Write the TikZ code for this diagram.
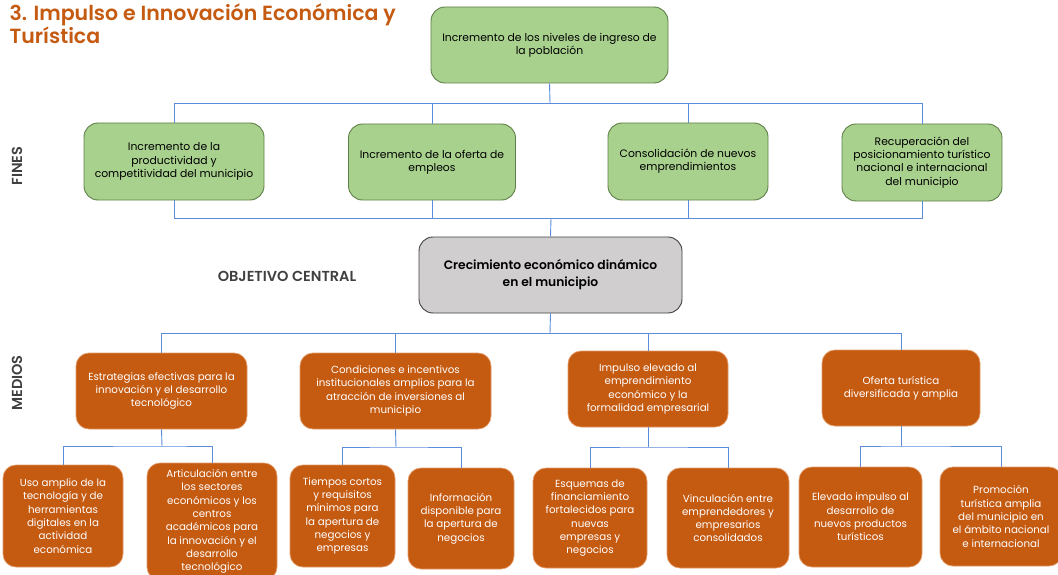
\documentclass[tikz,border=0pt]{standalone}
\usepackage{fontspec}
\setmainfont{Poppins}
\newfontfamily\medfont{Poppins SemiBold}
\usepackage{tikz}

\definecolor{verde}{HTML}{A9D18E}
\definecolor{bordeverde}{HTML}{5F7F48}
\definecolor{naranja}{HTML}{C55A11}
\definecolor{bordenaranja}{HTML}{E39A66}
\definecolor{gris}{HTML}{D0CECE}
\definecolor{azul}{HTML}{5B8BD9}
\definecolor{rotulo}{HTML}{404040}

\begin{document}
\begin{tikzpicture}[x=1pt,y=-1pt,
  fin/.style={draw=bordeverde,fill=verde,rounded corners=14pt,line width=0.9pt,align=center,inner sep=0pt,font=\fontsize{10.8}{13.2}\selectfont},
  medio/.style={draw=bordenaranja,fill=naranja,text=white,rounded corners=13pt,line width=0.7pt,align=center,inner sep=0pt,font=\fontsize{10.3}{13.3}\selectfont},
  conn/.style={azul,line width=0.9pt},
  rot/.style={text=rotulo,font=\medfont\fontsize{14.5}{16}\selectfont}]
\useasboundingbox (0,0) rectangle (1058,575);

% titulo y rotulos
\node[anchor=north west,align=left,text=naranja,font=\medfont\fontsize{20.5}{23}\selectfont] (titulo) at (6,0) {3. Impulso e Innovación Económica y\\Turística};
\node[rot,rotate=90] (fines) at (17,166) {FINES};
\node[rot,rotate=90] (medios) at (17,383) {MEDIOS};
\node[rot] (objetivo) at (287,276) {OBJETIVO CENTRAL};

% fines
\node[fin,minimum width=237pt,minimum height=76pt] (top) at (549.5,45) {Incremento de los niveles de ingreso de\\la población};
\node[fin,minimum width=180pt,minimum height=77pt] (f1) at (174,161.5) {Incremento de la\\productividad y\\competitividad del municipio};
\node[fin,minimum width=167pt,minimum height=76pt] (f2) at (432,162) {Incremento de la oferta de\\empleos};
\node[fin,minimum width=160pt,minimum height=77pt] (f3) at (688,161.5) {Consolidación de nuevos\\emprendimientos};
\node[fin,minimum width=160pt,minimum height=77pt] (f4) at (922,162.5) {Recuperación del\\posicionamiento turístico\\nacional e internacional\\del municipio};

% objetivo central
\node[draw=rotulo,fill=gris,rounded corners=14pt,line width=0.9pt,align=center,inner sep=0pt,minimum width=263pt,minimum height=76pt,font=\medfont\fontsize{12.3}{17}\selectfont] (cen) at (550.5,275) {Crecimiento económico dinámico\\en el municipio};

% medios
\node[medio,minimum width=171pt,minimum height=76pt] (m1) at (161.5,391) {Estrategias efectivas para la\\innovación y el desarrollo\\tecnológico};
\node[medio,minimum width=191pt,minimum height=76pt] (m2) at (395.5,391) {Condiciones e incentivos\\institucionales amplios para la\\atracción de inversiones al\\municipio};
\node[medio,minimum width=160pt,minimum height=76pt] (m3) at (648,389) {Impulso elevado al\\emprendimiento\\económico y la\\formalidad empresarial};
\node[medio,minimum width=158pt,minimum height=76pt] (m4) at (901,388) {Oferta turística\\diversificada y amplia};

\node[medio,minimum width=120pt,minimum height=102pt] (b1) at (63,516) {Uso amplio de la\\tecnología y de\\herramientas\\digitales en la\\actividad\\económica};
\node[medio,minimum width=130pt,minimum height=117pt] (b2) at (212,521.5) {Articulación entre\\los sectores\\económicos y los\\centros\\académicos para\\la innovación y el\\desarrollo\\tecnológico};
\node[medio,minimum width=105pt,minimum height=102pt] (b3) at (342.5,516) {Tiempos cortos\\y requisitos\\mínimos para\\la apertura de\\negocios y\\empresas};
\node[medio,minimum width=106pt,minimum height=101pt] (b4) at (461,518.5) {Información\\disponible para\\la apertura de\\negocios};
\node[medio,minimum width=114pt,minimum height=100pt] (b5) at (590,518) {Esquemas de\\financiamiento\\fortalecidos para\\nuevas\\empresas y\\negocios};
\node[medio,minimum width=122pt,minimum height=100pt] (b6) at (728,518) {Vinculación entre\\emprendedores y\\empresarios\\consolidados};
\node[medio,minimum width=123pt,minimum height=100pt] (b7) at (860.5,517) {Elevado impulso al\\desarrollo de\\nuevos productos\\turísticos};
\node[medio,minimum width=122pt,minimum height=99pt] (b8) at (1001,516.5) {Promoción\\turística amplia\\del municipio en\\el ámbito nacional\\e internacional};

% uniones
\coordinate (jtop) at (550,103);
\coordinate (jcen) at (551,218);
\coordinate (jmed) at (550,333);
\coordinate (j1) at (162,446);
\coordinate (j2) at (396,447);
\coordinate (j3) at (648,447);
\coordinate (j4) at (901,446);

\draw[conn] (top.south) -- (jtop);
\foreach \f in {f1,f2,f3,f4}
  \draw[conn] (jtop) -| (\f.north);
\foreach \f in {f1,f2,f3,f4}
  \draw[conn] (\f.south) |- (jcen);
\draw[conn] (jcen) -- (cen.north);
\draw[conn] (cen.south) -- (jmed);
\foreach \m in {m1,m2,m3,m4}
  \draw[conn] (jmed) -| (\m.north);

\draw[conn] (m1.south) -- (j1);
\draw[conn] (b1.north) |- (j1) -| (b2.north);
\draw[conn] (m2.south) -- (j2);
\draw[conn] (b3.north) |- (j2) -| (b4.north);
\draw[conn] (m3.south) -- (j3);
\draw[conn] (b5.north) |- (j3) -| (b6.north);
\draw[conn] (m4.south) -- (j4);
\draw[conn] (b7.north) |- (j4) -| (b8.north);
\end{tikzpicture}
\end{document}
